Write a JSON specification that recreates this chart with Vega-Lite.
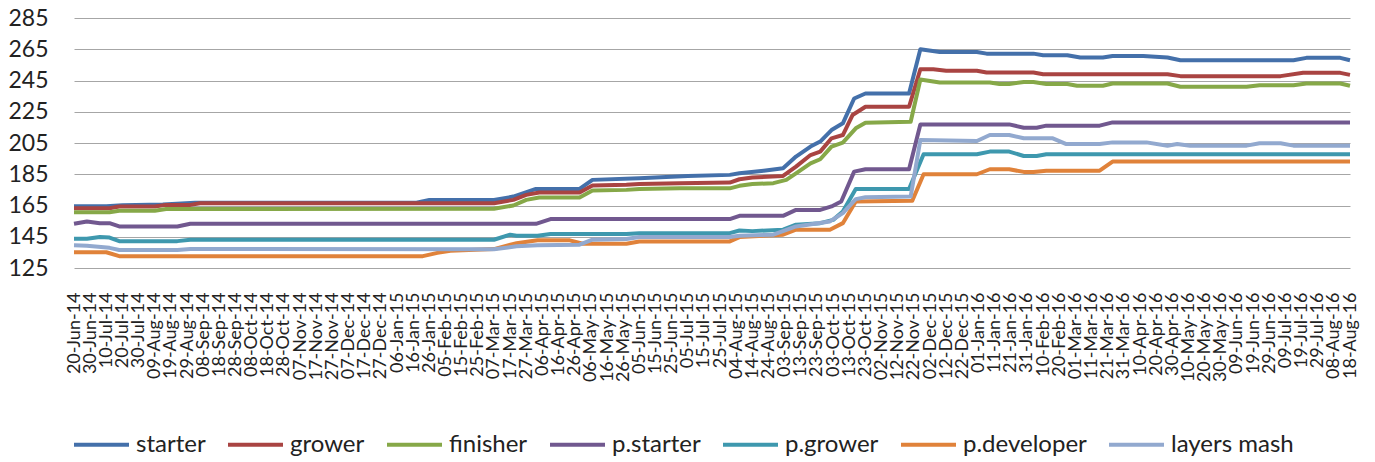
{
  "$schema": "https://vega.github.io/schema/vega-lite/v6.json",
  "width": 1276,
  "height": 250,
  "autosize": {"type": "none"},
  "padding": {"left": 74, "top": 18, "right": 25, "bottom": 194},
  "background": "white",
  "config": {"view": {"stroke": null}, "font": "Lato"},
  "data": {"values": [
    {"date":"2014-06-20","series":"starter","value":164.6},
    {"date":"2014-07-10","series":"starter","value":164.6},
    {"date":"2014-07-20","series":"starter","value":165.2},
    {"date":"2014-08-14","series":"starter","value":165.6},
    {"date":"2014-09-03","series":"starter","value":166.8},
    {"date":"2015-01-18","series":"starter","value":166.8},
    {"date":"2015-01-26","series":"starter","value":168.5},
    {"date":"2015-03-07","series":"starter","value":168.6},
    {"date":"2015-03-19","series":"starter","value":170.7},
    {"date":"2015-04-02","series":"starter","value":175.6},
    {"date":"2015-04-29","series":"starter","value":175.6},
    {"date":"2015-05-07","series":"starter","value":181.4},
    {"date":"2015-06-05","series":"starter","value":182.5},
    {"date":"2015-07-05","series":"starter","value":183.9},
    {"date":"2015-07-31","series":"starter","value":184.6},
    {"date":"2015-08-06","series":"starter","value":185.6},
    {"date":"2015-08-21","series":"starter","value":187.3},
    {"date":"2015-09-02","series":"starter","value":188.8},
    {"date":"2015-09-10","series":"starter","value":196.3},
    {"date":"2015-09-19","series":"starter","value":202.7},
    {"date":"2015-09-25","series":"starter","value":205.9},
    {"date":"2015-10-02","series":"starter","value":213.3},
    {"date":"2015-10-09","series":"starter","value":217.6},
    {"date":"2015-10-16","series":"starter","value":233.5},
    {"date":"2015-10-23","series":"starter","value":236.7},
    {"date":"2015-11-19","series":"starter","value":236.7},
    {"date":"2015-11-26","series":"starter","value":265.0},
    {"date":"2015-12-08","series":"starter","value":263.3},
    {"date":"2015-12-31","series":"starter","value":263.3},
    {"date":"2016-01-06","series":"starter","value":262.2},
    {"date":"2016-02-04","series":"starter","value":262.2},
    {"date":"2016-02-10","series":"starter","value":261.2},
    {"date":"2016-02-25","series":"starter","value":261.2},
    {"date":"2016-03-04","series":"starter","value":259.7},
    {"date":"2016-03-18","series":"starter","value":259.7},
    {"date":"2016-03-24","series":"starter","value":260.7},
    {"date":"2016-04-12","series":"starter","value":260.7},
    {"date":"2016-04-27","series":"starter","value":259.7},
    {"date":"2016-05-05","series":"starter","value":258.0},
    {"date":"2016-07-14","series":"starter","value":258.0},
    {"date":"2016-07-22","series":"starter","value":259.5},
    {"date":"2016-08-12","series":"starter","value":259.5},
    {"date":"2016-08-18","series":"starter","value":258.0},

    {"date":"2014-06-20","series":"grower","value":163.3},
    {"date":"2014-07-12","series":"grower","value":163.3},
    {"date":"2014-07-18","series":"grower","value":164.3},
    {"date":"2014-08-09","series":"grower","value":164.3},
    {"date":"2014-08-16","series":"grower","value":165.4},
    {"date":"2014-08-31","series":"grower","value":165.4},
    {"date":"2014-09-06","series":"grower","value":166.5},
    {"date":"2015-03-07","series":"grower","value":166.5},
    {"date":"2015-03-19","series":"grower","value":168.6},
    {"date":"2015-03-27","series":"grower","value":171.8},
    {"date":"2015-04-04","series":"grower","value":173.3},
    {"date":"2015-04-29","series":"grower","value":173.3},
    {"date":"2015-05-07","series":"grower","value":177.8},
    {"date":"2015-05-28","series":"grower","value":178.3},
    {"date":"2015-06-05","series":"grower","value":178.8},
    {"date":"2015-06-30","series":"grower","value":179.3},
    {"date":"2015-07-31","series":"grower","value":179.7},
    {"date":"2015-08-06","series":"grower","value":181.8},
    {"date":"2015-08-14","series":"grower","value":182.9},
    {"date":"2015-09-02","series":"grower","value":183.9},
    {"date":"2015-09-10","series":"grower","value":189.9},
    {"date":"2015-09-19","series":"grower","value":197.3},
    {"date":"2015-09-25","series":"grower","value":199.5},
    {"date":"2015-10-02","series":"grower","value":208.0},
    {"date":"2015-10-09","series":"grower","value":210.1},
    {"date":"2015-10-15","series":"grower","value":222.9},
    {"date":"2015-10-23","series":"grower","value":228.2},
    {"date":"2015-11-19","series":"grower","value":228.2},
    {"date":"2015-11-26","series":"grower","value":252.2},
    {"date":"2015-12-04","series":"grower","value":252.2},
    {"date":"2015-12-12","series":"grower","value":251.2},
    {"date":"2015-12-31","series":"grower","value":251.2},
    {"date":"2016-01-06","series":"grower","value":250.1},
    {"date":"2016-02-04","series":"grower","value":250.1},
    {"date":"2016-02-10","series":"grower","value":249.0},
    {"date":"2016-04-27","series":"grower","value":249.0},
    {"date":"2016-05-05","series":"grower","value":247.8},
    {"date":"2016-07-06","series":"grower","value":247.8},
    {"date":"2016-07-20","series":"grower","value":249.9},
    {"date":"2016-08-12","series":"grower","value":249.9},
    {"date":"2016-08-18","series":"grower","value":248.6},

    {"date":"2014-06-20","series":"finisher","value":160.7},
    {"date":"2014-07-12","series":"finisher","value":160.7},
    {"date":"2014-07-18","series":"finisher","value":161.6},
    {"date":"2014-08-09","series":"finisher","value":161.6},
    {"date":"2014-08-16","series":"finisher","value":162.8},
    {"date":"2015-03-07","series":"finisher","value":162.9},
    {"date":"2015-03-19","series":"finisher","value":165.0},
    {"date":"2015-03-27","series":"finisher","value":168.6},
    {"date":"2015-04-04","series":"finisher","value":170.1},
    {"date":"2015-04-29","series":"finisher","value":170.1},
    {"date":"2015-05-07","series":"finisher","value":174.6},
    {"date":"2015-05-28","series":"finisher","value":175.0},
    {"date":"2015-06-05","series":"finisher","value":175.6},
    {"date":"2015-06-30","series":"finisher","value":176.0},
    {"date":"2015-07-31","series":"finisher","value":176.0},
    {"date":"2015-08-06","series":"finisher","value":177.6},
    {"date":"2015-08-14","series":"finisher","value":178.7},
    {"date":"2015-08-27","series":"finisher","value":179.3},
    {"date":"2015-09-04","series":"finisher","value":181.4},
    {"date":"2015-09-10","series":"finisher","value":185.6},
    {"date":"2015-09-19","series":"finisher","value":192.0},
    {"date":"2015-09-25","series":"finisher","value":194.6},
    {"date":"2015-10-02","series":"finisher","value":202.7},
    {"date":"2015-10-09","series":"finisher","value":205.2},
    {"date":"2015-10-17","series":"finisher","value":214.4},
    {"date":"2015-10-23","series":"finisher","value":218.0},
    {"date":"2015-11-20","series":"finisher","value":218.6},
    {"date":"2015-11-26","series":"finisher","value":245.6},
    {"date":"2015-12-08","series":"finisher","value":243.7},
    {"date":"2016-01-08","series":"finisher","value":243.7},
    {"date":"2016-01-14","series":"finisher","value":242.7},
    {"date":"2016-01-20","series":"finisher","value":242.7},
    {"date":"2016-01-29","series":"finisher","value":244.1},
    {"date":"2016-02-04","series":"finisher","value":244.1},
    {"date":"2016-02-12","series":"finisher","value":242.7},
    {"date":"2016-02-25","series":"finisher","value":242.7},
    {"date":"2016-03-02","series":"finisher","value":241.6},
    {"date":"2016-03-18","series":"finisher","value":241.6},
    {"date":"2016-03-24","series":"finisher","value":243.1},
    {"date":"2016-04-27","series":"finisher","value":243.1},
    {"date":"2016-05-05","series":"finisher","value":241.0},
    {"date":"2016-06-15","series":"finisher","value":241.0},
    {"date":"2016-06-23","series":"finisher","value":242.0},
    {"date":"2016-07-14","series":"finisher","value":242.0},
    {"date":"2016-07-22","series":"finisher","value":243.1},
    {"date":"2016-08-12","series":"finisher","value":243.1},
    {"date":"2016-08-18","series":"finisher","value":241.6},

    {"date":"2014-06-20","series":"p.starter","value":153.3},
    {"date":"2014-06-28","series":"p.starter","value":154.8},
    {"date":"2014-07-06","series":"p.starter","value":153.7},
    {"date":"2014-07-12","series":"p.starter","value":153.7},
    {"date":"2014-07-18","series":"p.starter","value":151.6},
    {"date":"2014-08-23","series":"p.starter","value":151.6},
    {"date":"2014-08-31","series":"p.starter","value":153.3},
    {"date":"2015-04-02","series":"p.starter","value":153.3},
    {"date":"2015-04-11","series":"p.starter","value":156.3},
    {"date":"2015-07-31","series":"p.starter","value":156.3},
    {"date":"2015-08-06","series":"p.starter","value":158.4},
    {"date":"2015-09-02","series":"p.starter","value":158.4},
    {"date":"2015-09-10","series":"p.starter","value":162.2},
    {"date":"2015-09-25","series":"p.starter","value":162.2},
    {"date":"2015-10-02","series":"p.starter","value":164.4},
    {"date":"2015-10-08","series":"p.starter","value":167.6},
    {"date":"2015-10-16","series":"p.starter","value":186.7},
    {"date":"2015-10-23","series":"p.starter","value":188.2},
    {"date":"2015-11-19","series":"p.starter","value":188.2},
    {"date":"2015-11-26","series":"p.starter","value":216.9},
    {"date":"2016-01-20","series":"p.starter","value":216.9},
    {"date":"2016-01-29","series":"p.starter","value":214.8},
    {"date":"2016-02-06","series":"p.starter","value":214.8},
    {"date":"2016-02-12","series":"p.starter","value":216.1},
    {"date":"2016-03-16","series":"p.starter","value":216.1},
    {"date":"2016-03-24","series":"p.starter","value":218.2},
    {"date":"2016-08-18","series":"p.starter","value":218.2},

    {"date":"2014-06-20","series":"p.grower","value":143.7},
    {"date":"2014-06-28","series":"p.grower","value":143.7},
    {"date":"2014-07-06","series":"p.grower","value":144.8},
    {"date":"2014-07-12","series":"p.grower","value":144.5},
    {"date":"2014-07-18","series":"p.grower","value":142.2},
    {"date":"2014-08-23","series":"p.grower","value":142.2},
    {"date":"2014-08-31","series":"p.grower","value":143.1},
    {"date":"2015-03-07","series":"p.grower","value":143.1},
    {"date":"2015-03-17","series":"p.grower","value":146.3},
    {"date":"2015-03-21","series":"p.grower","value":145.6},
    {"date":"2015-04-03","series":"p.grower","value":145.6},
    {"date":"2015-04-11","series":"p.grower","value":146.7},
    {"date":"2015-05-28","series":"p.grower","value":146.7},
    {"date":"2015-06-05","series":"p.grower","value":147.3},
    {"date":"2015-07-31","series":"p.grower","value":147.3},
    {"date":"2015-08-06","series":"p.grower","value":149.0},
    {"date":"2015-08-14","series":"p.grower","value":148.6},
    {"date":"2015-09-02","series":"p.grower","value":149.5},
    {"date":"2015-09-10","series":"p.grower","value":152.7},
    {"date":"2015-09-25","series":"p.grower","value":153.7},
    {"date":"2015-10-03","series":"p.grower","value":155.8},
    {"date":"2015-10-09","series":"p.grower","value":161.2},
    {"date":"2015-10-17","series":"p.grower","value":175.6},
    {"date":"2015-11-19","series":"p.grower","value":175.6},
    {"date":"2015-11-28","series":"p.grower","value":197.8},
    {"date":"2015-12-31","series":"p.grower","value":197.8},
    {"date":"2016-01-08","series":"p.grower","value":199.5},
    {"date":"2016-01-20","series":"p.grower","value":199.5},
    {"date":"2016-01-29","series":"p.grower","value":196.7},
    {"date":"2016-02-06","series":"p.grower","value":196.7},
    {"date":"2016-02-12","series":"p.grower","value":197.8},
    {"date":"2016-08-18","series":"p.grower","value":197.8},

    {"date":"2014-06-20","series":"p.developer","value":135.1},
    {"date":"2014-07-10","series":"p.developer","value":135.1},
    {"date":"2014-07-18","series":"p.developer","value":132.6},
    {"date":"2015-01-22","series":"p.developer","value":132.6},
    {"date":"2015-01-31","series":"p.developer","value":134.7},
    {"date":"2015-02-08","series":"p.developer","value":136.0},
    {"date":"2015-03-07","series":"p.developer","value":137.1},
    {"date":"2015-03-21","series":"p.developer","value":140.9},
    {"date":"2015-04-03","series":"p.developer","value":142.7},
    {"date":"2015-04-23","series":"p.developer","value":142.7},
    {"date":"2015-05-01","series":"p.developer","value":140.5},
    {"date":"2015-05-28","series":"p.developer","value":140.5},
    {"date":"2015-06-05","series":"p.developer","value":142.0},
    {"date":"2015-07-31","series":"p.developer","value":142.0},
    {"date":"2015-08-06","series":"p.developer","value":144.8},
    {"date":"2015-09-02","series":"p.developer","value":146.3},
    {"date":"2015-09-10","series":"p.developer","value":149.5},
    {"date":"2015-10-01","series":"p.developer","value":149.5},
    {"date":"2015-10-09","series":"p.developer","value":153.7},
    {"date":"2015-10-17","series":"p.developer","value":167.6},
    {"date":"2015-11-21","series":"p.developer","value":168.0},
    {"date":"2015-11-28","series":"p.developer","value":185.0},
    {"date":"2015-12-31","series":"p.developer","value":185.0},
    {"date":"2016-01-08","series":"p.developer","value":188.2},
    {"date":"2016-01-20","series":"p.developer","value":188.2},
    {"date":"2016-01-29","series":"p.developer","value":186.5},
    {"date":"2016-02-04","series":"p.developer","value":186.5},
    {"date":"2016-02-12","series":"p.developer","value":187.3},
    {"date":"2016-03-16","series":"p.developer","value":187.3},
    {"date":"2016-03-24","series":"p.developer","value":193.1},
    {"date":"2016-08-18","series":"p.developer","value":193.1},

    {"date":"2014-06-20","series":"layers mash","value":139.5},
    {"date":"2014-06-28","series":"layers mash","value":139.3},
    {"date":"2014-07-12","series":"layers mash","value":137.9},
    {"date":"2014-07-18","series":"layers mash","value":136.5},
    {"date":"2014-08-23","series":"layers mash","value":136.5},
    {"date":"2014-08-31","series":"layers mash","value":137.2},
    {"date":"2015-03-07","series":"layers mash","value":137.0},
    {"date":"2015-03-21","series":"layers mash","value":138.9},
    {"date":"2015-04-03","series":"layers mash","value":139.5},
    {"date":"2015-04-29","series":"layers mash","value":139.9},
    {"date":"2015-05-07","series":"layers mash","value":143.1},
    {"date":"2015-05-28","series":"layers mash","value":143.5},
    {"date":"2015-06-05","series":"layers mash","value":144.8},
    {"date":"2015-07-31","series":"layers mash","value":144.8},
    {"date":"2015-08-06","series":"layers mash","value":145.6},
    {"date":"2015-08-27","series":"layers mash","value":146.3},
    {"date":"2015-09-10","series":"layers mash","value":151.6},
    {"date":"2015-10-01","series":"layers mash","value":154.8},
    {"date":"2015-10-09","series":"layers mash","value":160.1},
    {"date":"2015-10-17","series":"layers mash","value":169.1},
    {"date":"2015-10-23","series":"layers mash","value":170.3},
    {"date":"2015-11-20","series":"layers mash","value":170.7},
    {"date":"2015-11-26","series":"layers mash","value":206.9},
    {"date":"2015-12-31","series":"layers mash","value":206.3},
    {"date":"2016-01-08","series":"layers mash","value":210.1},
    {"date":"2016-01-20","series":"layers mash","value":210.1},
    {"date":"2016-01-29","series":"layers mash","value":208.0},
    {"date":"2016-02-16","series":"layers mash","value":208.0},
    {"date":"2016-02-24","series":"layers mash","value":204.4},
    {"date":"2016-03-16","series":"layers mash","value":204.4},
    {"date":"2016-03-24","series":"layers mash","value":205.4},
    {"date":"2016-04-14","series":"layers mash","value":205.4},
    {"date":"2016-04-27","series":"layers mash","value":203.3},
    {"date":"2016-05-03","series":"layers mash","value":204.4},
    {"date":"2016-05-11","series":"layers mash","value":203.3},
    {"date":"2016-06-15","series":"layers mash","value":203.3},
    {"date":"2016-06-23","series":"layers mash","value":204.8},
    {"date":"2016-07-06","series":"layers mash","value":204.8},
    {"date":"2016-07-14","series":"layers mash","value":203.3},
    {"date":"2016-08-18","series":"layers mash","value":203.3}
  ]},
  "mark": {"type": "line", "strokeWidth": 4, "strokeJoin": "round"},
  "encoding": {
    "x": {
      "field": "date", "type": "temporal",
      "scale": {"type": "utc", "domain": [1403222400000, 1471478400000]},
      "axis": {
        "title": null, "grid": false, "domain": false, "ticks": false,
        "format": "%d-%b-%y", "labelAngle": -90, "labelPadding": 24,
        "labelFont": "Lato", "labelFontSize": 18, "labelColor": "#222222",
        "labelOverlap": false, "labelFlush": false, "labelBound": false,
        "values": [1403222400000,1404086400000,1404950400000,1405814400000,1406678400000,1407542400000,1408406400000,1409270400000,1410134400000,1410998400000,1411862400000,1412726400000,1413590400000,1414454400000,1415318400000,1416182400000,1417046400000,1417910400000,1418774400000,1419638400000,1420502400000,1421366400000,1422230400000,1423094400000,1423958400000,1424822400000,1425686400000,1426550400000,1427414400000,1428278400000,1429142400000,1430006400000,1430870400000,1431734400000,1432598400000,1433462400000,1434326400000,1435190400000,1436054400000,1436918400000,1437782400000,1438646400000,1439510400000,1440374400000,1441238400000,1442102400000,1442966400000,1443830400000,1444694400000,1445558400000,1446422400000,1447286400000,1448150400000,1449014400000,1449878400000,1450742400000,1451606400000,1452470400000,1453334400000,1454198400000,1455062400000,1455926400000,1456790400000,1457654400000,1458518400000,1459382400000,1460246400000,1461110400000,1461974400000,1462838400000,1463702400000,1464566400000,1465430400000,1466294400000,1467158400000,1468022400000,1468886400000,1469750400000,1470614400000,1471478400000]
      }
    },
    "y": {
      "field": "value", "type": "quantitative",
      "scale": {"domain": [125, 285], "nice": false, "zero": false},
      "axis": {
        "title": null, "values": [125,145,165,185,205,225,245,265,285],
        "grid": true, "gridColor": "#A6A6A6", "gridWidth": 1,
        "domain": false, "ticks": false, "labelPadding": 26,
        "labelFont": "Lato", "labelFontSize": 23, "labelColor": "#222222"
      }
    },
    "color": {
      "field": "series", "type": "nominal",
      "scale": {
        "domain": ["starter","grower","finisher","p.starter","p.grower","p.developer","layers mash"],
        "range": ["#4470AA","#A94442","#86A848","#71588F","#3E98AE","#E0823A","#92A9CF"]
      },
      "legend": {
        "title": null, "orient": "none", "legendX": -2, "legendY": 397,
        "direction": "horizontal", "columns": 7,
        "symbolType": "stroke", "symbolSize": 3025, "symbolStrokeWidth": 4,
        "labelFont": "Lato", "labelFontSize": 24, "labelColor": "#222222",
        "labelOffset": 5, "columnPadding": 14, "labelLimit": 300
      }
    }
  }
}
